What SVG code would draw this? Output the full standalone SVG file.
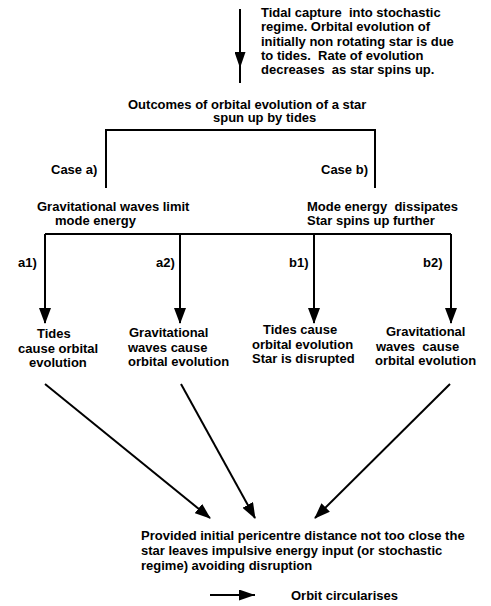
<svg xmlns="http://www.w3.org/2000/svg" width="491" height="606" viewBox="0 0 491 606">
<style>
text{font-family:"Liberation Sans",Arial,sans-serif;font-weight:bold;font-size:13px;fill:#000;white-space:pre}
.ln{fill:none;stroke:#000;stroke-width:2}
</style>
<defs>
<marker id="ah" markerUnits="userSpaceOnUse" markerWidth="16" markerHeight="12" viewBox="0 0 16 12" refX="15" refY="6" orient="auto">
<path d="M0,0 L16,6 L0,12 z" fill="#000"/>
</marker>
<marker id="ahs" markerUnits="userSpaceOnUse" markerWidth="16" markerHeight="11" viewBox="0 0 16 11" refX="16" refY="5.5" orient="auto">
<path d="M0,0 L16,5.5 L0,11 z" fill="#000"/>
</marker>
</defs>
<rect width="491" height="606" fill="#fff"/>
<g id="connectors">
<path class="ln" d="M240,9 L240,68 L240,83" marker-mid="url(#ahs)"/>
<path class="ln" d="M106,188 V130 H375 V188"/>
<path class="ln" d="M45,234 H451"/>
<path class="ln" d="M45,234 V323" marker-end="url(#ah)"/>
<path class="ln" d="M180,234 V323" marker-end="url(#ah)"/>
<path class="ln" d="M314,234 V323" marker-end="url(#ah)"/>
<path class="ln" d="M451,234 V323" marker-end="url(#ah)"/>
<path class="ln" d="M45,384 L210,518" marker-end="url(#ah)"/>
<path class="ln" d="M181,384 L255,518" marker-end="url(#ah)"/>
<path class="ln" d="M450,384 L315,518" marker-end="url(#ah)"/>
<path class="ln" d="M210,595 H255" marker-end="url(#ahs)"/>
</g>
<g id="capture">
<text x="261" y="17">Tidal capture  into stochastic</text>
<text x="261" y="31.3">regime. Orbital evolution of</text>
<text x="261" y="45.6">initially non rotating star is due</text>
<text x="261" y="59.9">to tides.  Rate of evolution</text>
<text x="261" y="74.2">decreases  as star spins up.</text>
</g>
<g id="outcomes">
<text x="128" y="108.5">Outcomes of orbital evolution of a star</text>
<text x="213" y="122">spun up by tides</text>
</g>
<g id="labels">
<text x="51" y="174">Case a)</text>
<text x="321" y="174">Case b)</text>
<text x="18" y="266.5">a1)</text>
<text x="156" y="266.5">a2)</text>
<text x="289" y="266.5">b1)</text>
<text x="423" y="266.5">b2)</text>
</g>
<g id="case-a">
<text x="37" y="211">Gravitational waves limit</text>
<text x="55" y="225">mode energy</text>
</g>
<g id="case-b">
<text x="307" y="211">Mode energy  dissipates</text>
<text x="307" y="225">Star spins up further</text>
</g>
<g id="a1">
<text x="37" y="338">Tides</text>
<text x="18" y="352.5">cause orbital</text>
<text x="29" y="367">evolution</text>
</g>
<g id="a2">
<text x="129" y="337">Gravitational</text>
<text x="128" y="351.5">waves cause</text>
<text x="128" y="366">orbital evolution</text>
</g>
<g id="b1">
<text x="263" y="334">Tides cause</text>
<text x="252" y="348.5">orbital evolution</text>
<text x="252" y="363">Star is disrupted</text>
</g>
<g id="b2">
<text x="386" y="336">Gravitational</text>
<text x="376" y="350.5">waves  cause</text>
<text x="375" y="365">orbital evolution</text>
</g>
<g id="result">
<text x="141" y="539.5">Provided initial pericentre distance not too close the</text>
<text x="141" y="554.5">star leaves impulsive energy input (or stochastic</text>
<text x="141" y="569.5">regime) avoiding disruption</text>
</g>
<g id="legend">
<text x="291" y="599.5">Orbit circularises</text>
</g>
</svg>
